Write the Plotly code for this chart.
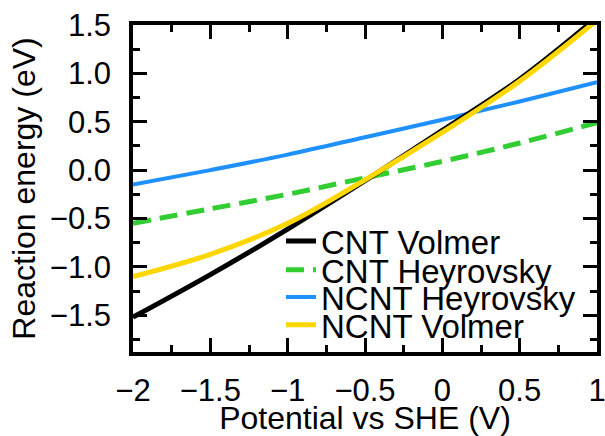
import plotly.graph_objects as go

# Electrode potential (V vs SHE)
potential = [-2.0, -1.5, -1.0, -0.5, 0.0, 0.5, 1.0]

# Reaction energies (eV) for each step / catalyst
cnt_volmer = [-1.52, -1.08, -0.61, -0.11, 0.41, 0.94, 1.58]
cnt_heyrovsky = [-0.55, -0.40, -0.25, -0.08, 0.09, 0.28, 0.49]
ncnt_heyrovsky = [-0.15, 0.00, 0.16, 0.34, 0.52, 0.71, 0.91]
ncnt_volmer = [-1.10, -0.87, -0.55, -0.10, 0.39, 0.92, 1.55]

series_names = ["CNT Volmer", "CNT Heyrovsky", "NCNT Heyrovsky", "NCNT Volmer"]

FONT = "Liberation Sans, Arial, Helvetica, sans-serif"
TICK_FS = 31
TITLE_FS = 32
LEGEND_FS = 33

fig = go.Figure()

# draw order: blue, green, black, yellow (yellow on top)
fig.add_trace(go.Scatter(x=potential, y=ncnt_heyrovsky, mode="lines", name=series_names[2],
                         line=dict(color="#1E90FF", width=4, shape="spline"), legend="legend3"))
fig.add_trace(go.Scatter(x=potential, y=cnt_heyrovsky, mode="lines", name=series_names[1],
                         line=dict(color="#32CD32", width=5, dash="18px,9px", shape="spline"),
                         legend="legend2"))
fig.add_trace(go.Scatter(x=potential, y=cnt_volmer, mode="lines", name=series_names[0],
                         line=dict(color="#000000", width=5, shape="spline"), legend="legend"))
fig.add_trace(go.Scatter(x=potential, y=ncnt_volmer, mode="lines", name=series_names[3],
                         line=dict(color="#FFD700", width=5, shape="spline"), legend="legend4"))

axis_common = dict(
    showline=True, linecolor="black", linewidth=3.5, mirror="ticks",
    ticks="inside", ticklen=14, tickwidth=3, tickcolor="black",
    showgrid=False, zeroline=False,
    tickfont=dict(family=FONT, size=TICK_FS, color="black"),
    title_font=dict(family=FONT, size=TITLE_FS, color="black"),
    ticklabeloverflow="allow",
)

fig.update_xaxes(
    range=[-2, 1], dtick=0.5, tick0=0,
    minor=dict(ticks="inside", ticklen=7, tickwidth=3, tickcolor="black", dtick=0.25),
    title_text="Potential vs SHE (V)", title_standoff=4,
    ticklabelstandoff=8,
    **axis_common,
)
fig.update_yaxes(
    range=[-1.88, 1.5], dtick=0.5, tick0=0, tickformat=".1f",
    minor=dict(ticks="inside", ticklen=7, tickwidth=3, tickcolor="black", dtick=0.25),
    title_text="Reaction energy (eV)", title_standoff=6,
    ticklabelstandoff=12,
    **axis_common,
)

legend_style = dict(
    xref="paper", yref="paper", x=0.319, xanchor="left", yanchor="middle",
    bgcolor="rgba(0,0,0,0)", borderwidth=0,
    font=dict(family=FONT, size=LEGEND_FS, color="black"),
)
fig.update_layout(
    width=605, height=436,
    margin=dict(l=133, r=8, t=25, b=84, autoexpand=False),
    paper_bgcolor="white", plot_bgcolor="white",
    showlegend=True,
    legend=dict(y=0.339, **legend_style),
    legend2=dict(y=0.251, **legend_style),
    legend3=dict(y=0.168, **legend_style),
    legend4=dict(y=0.083, **legend_style),
)

fig.write_html("out.html")
